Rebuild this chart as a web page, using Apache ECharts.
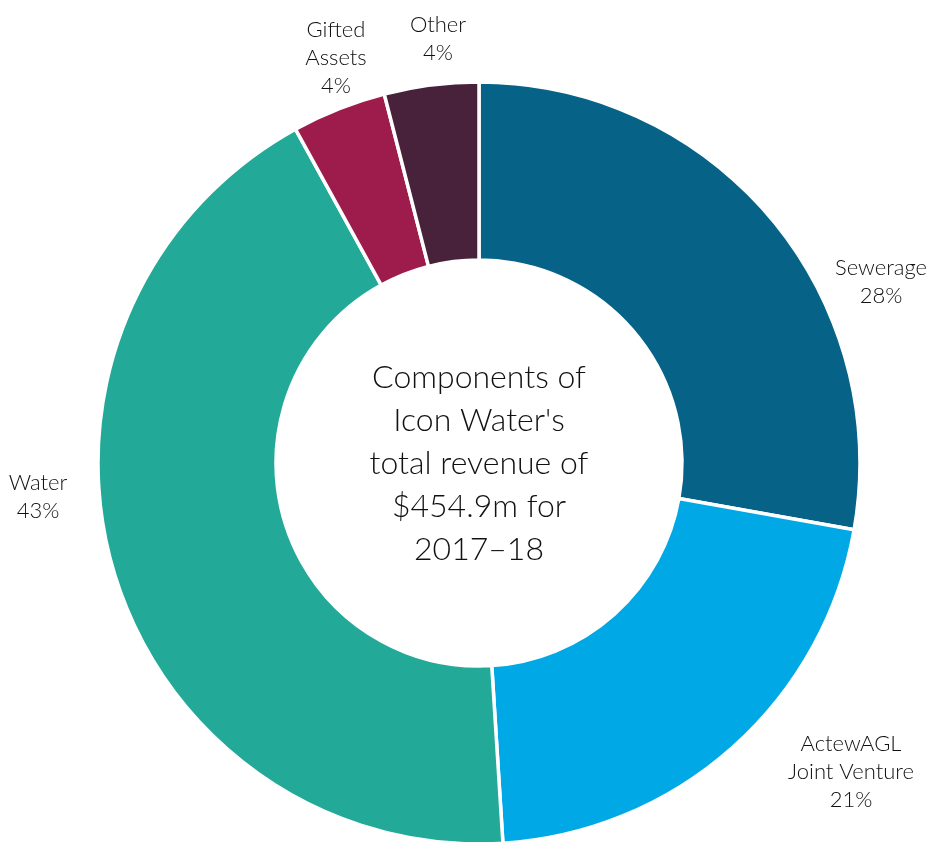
<!DOCTYPE html>
<html>
<head>
<meta charset="utf-8">
<script src="https://cdn.jsdelivr.net/npm/echarts@6/dist/echarts.min.js"></script>
<style>
html,body{margin:0;padding:0;background:#fff;}
#chart{width:935px;height:842px;}
</style>
</head>
<body>
<div id="chart"></div>
<script>
// Data (share of total revenue, %)
const categories = ['Sewerage', 'ActewAGL\nJoint Venture', 'Water', 'Gifted\nAssets', 'Other'];
const values = [27.8, 21.2, 43.0, 4.0, 4.0];
const colors = ['#066387', '#00a9e5', '#22a997', '#9d1c4c', '#48213a'];
const centerText = "Components of\nIcon Water's\ntotal revenue of\n$454.9m for\n2017\u201318";

// label anchor positions (layout only)
const labelPos = [
  {x: 881, y: 282},
  {x: 851, y: 772},
  {x: 38, y: 497},
  {x: 336, y: 58},
  {x: 438, y: 39}
];

const FONT = 'Lato, "Noto Sans", sans-serif';
const chart = echarts.init(document.getElementById('chart'));
chart.setOption({
  animation: false,
  backgroundColor: '#ffffff',
  graphic: [{
    type: 'text',
    style: {
      text: centerText,
      x: 479, y: 464,
      align: 'center',
      verticalAlign: 'middle',
      font: '300 32px ' + FONT,
      lineHeight: 43,
      fill: '#111111'
    }
  }],
  series: [{
    type: 'pie',
    center: [479, 463],
    radius: [203, 381],
    startAngle: 90,
    clockwise: true,
    avoidLabelOverlap: false,
    itemStyle: {borderColor: '#ffffff', borderWidth: 3.5},
    label: {
      show: true,
      position: 'outside',
      fontFamily: FONT,
      fontSize: 22,
      fontWeight: 300,
      lineHeight: 28,
      color: '#111111',
      align: 'center',
      formatter: p => p.name + '\n' + Math.round(p.percent) + '%'
    },
    labelLine: {show: false},
    labelLayout: p => ({
      x: labelPos[p.dataIndex].x,
      y: labelPos[p.dataIndex].y,
      align: 'center',
      verticalAlign: 'middle'
    }),
    emphasis: {disabled: true},
    data: categories.map((c, i) => ({name: c, value: values[i], itemStyle: {color: colors[i]}}))
  }]
});
</script>
</body>
</html>
